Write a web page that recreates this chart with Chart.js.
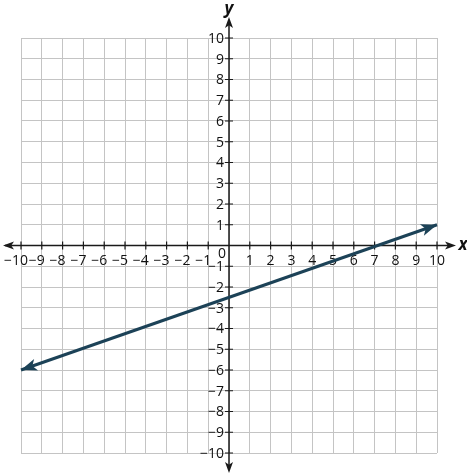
<!DOCTYPE html>
<html>
<head>
<meta charset="utf-8">
<script src="https://cdn.jsdelivr.net/npm/chart.js@4.4.1/dist/chart.umd.min.js"></script>
<style>
  html, body { margin: 0; padding: 0; background: #fff; }
  #wrap { width: 467px; height: 475px; }
</style>
</head>
<body>
<div id="wrap"><canvas id="graph"></canvas></div>
<script>
const xMin = -10, xMax = 10;
const yMin = -10, yMax = 10;
const tickValues = [-10, -9, -8, -7, -6, -5, -4, -3, -2, -1, 1, 2, 3, 4, 5, 6, 7, 8, 9, 10];
const lineX = [-10, 10];
const lineY = [-6, 1];

const lineColor = "#1c4257";
const axisColor = "#1a1a1a";
const labelFont = "14px 'Open Sans', 'DejaVu Sans', sans-serif";

function minus(v) {
  return v < 0 ? "\u2212" + Math.abs(v) : String(v);
}

function arrowHead(ctx, x, y, angle, len, half) {
  ctx.save();
  ctx.translate(x, y);
  ctx.rotate(angle);
  ctx.beginPath();
  ctx.moveTo(0, 0);
  ctx.lineTo(-len, -half);
  ctx.lineTo(-len * 0.75, 0);
  ctx.lineTo(-len, half);
  ctx.closePath();
  ctx.fill();
  ctx.restore();
}

const axesPlugin = {
  id: "axesPlugin",
  beforeDatasetsDraw(chart) {
    const ctx = chart.ctx;
    const xs = chart.scales.x, ys = chart.scales.y;
    const ox = xs.getPixelForValue(0), oy = ys.getPixelForValue(0);
    ctx.save();
    ctx.strokeStyle = axisColor;
    ctx.fillStyle = axisColor;
    ctx.lineWidth = 1.5;
    // axis lines
    ctx.beginPath();
    ctx.moveTo(5, oy); ctx.lineTo(452, oy);
    ctx.moveTo(ox, 20); ctx.lineTo(ox, 470);
    ctx.stroke();
    arrowHead(ctx, 3, oy, Math.PI, 11, 4);
    arrowHead(ctx, 456, oy, 0, 11, 4);
    arrowHead(ctx, ox, 17, -Math.PI / 2, 11, 4);
    arrowHead(ctx, ox, 473, Math.PI / 2, 11, 4);
    // ticks
    ctx.lineWidth = 1.2;
    ctx.beginPath();
    tickValues.forEach((v) => {
      const px = xs.getPixelForValue(v);
      ctx.moveTo(px, oy - 4); ctx.lineTo(px, oy + 4);
      const py = ys.getPixelForValue(v);
      ctx.moveTo(ox - 4, py); ctx.lineTo(ox + 4, py);
    });
    ctx.stroke();
    // labels
    ctx.font = labelFont;
    ctx.fillStyle = "#111";
    ctx.textAlign = "center";
    ctx.textBaseline = "middle";
    tickValues.forEach((v) => {
      const px = xs.getPixelForValue(v);
      ctx.fillText(minus(v), px - (v < 0 ? 5 : 0), oy + 16);
    });
    ctx.textAlign = "right";
    tickValues.forEach((v) => {
      const py = ys.getPixelForValue(v);
      ctx.fillText(minus(v), ox - 5, py + 1);
    });
    ctx.textAlign = "center";
    ctx.fillText("0", ox - 7, oy + 9);
    ctx.font = "italic bold 17px 'Open Sans', 'DejaVu Sans', sans-serif";
    ctx.fillText("x", 463, oy);
    ctx.fillText("y", ox, 9);
    ctx.restore();
  },
  afterDatasetsDraw(chart) {
    const ctx = chart.ctx;
    const pts = chart.getDatasetMeta(0).data;
    const a = pts[0], b = pts[pts.length - 1];
    const ang = Math.atan2(b.y - a.y, b.x - a.x);
    ctx.save();
    ctx.fillStyle = lineColor;
    arrowHead(ctx, b.x, b.y, ang, 16, 6);
    arrowHead(ctx, a.x, a.y, ang + Math.PI, 16, 6);
    ctx.restore();
  }
};

new Chart(document.getElementById("graph"), {
  type: "scatter",
  data: {
    datasets: [{
      data: lineX.map((x, i) => ({ x: x, y: lineY[i] })),
      showLine: true,
      borderColor: lineColor,
      borderWidth: 3,
      pointRadius: 0,
      clip: false
    }]
  },
  options: {
    responsive: true,
    maintainAspectRatio: false,
    animation: false,
    events: [],
    layout: { padding: { left: 21, right: 30, top: 38, bottom: 22 } },
    plugins: { legend: { display: false }, tooltip: { enabled: false } },
    scales: {
      x: {
        type: "linear", min: xMin, max: xMax,
        ticks: { display: false, stepSize: 1 },
        grid: { color: "#c4c4c4", lineWidth: 1, drawTicks: false },
        border: { display: false },
        afterFit: (s) => { s.height = 0; }
      },
      y: {
        type: "linear", min: yMin, max: yMax,
        ticks: { display: false, stepSize: 1 },
        grid: { color: "#c4c4c4", lineWidth: 1, drawTicks: false },
        border: { display: false },
        afterFit: (s) => { s.width = 0; }
      }
    }
  },
  plugins: [axesPlugin]
});
</script>
</body>
</html>
